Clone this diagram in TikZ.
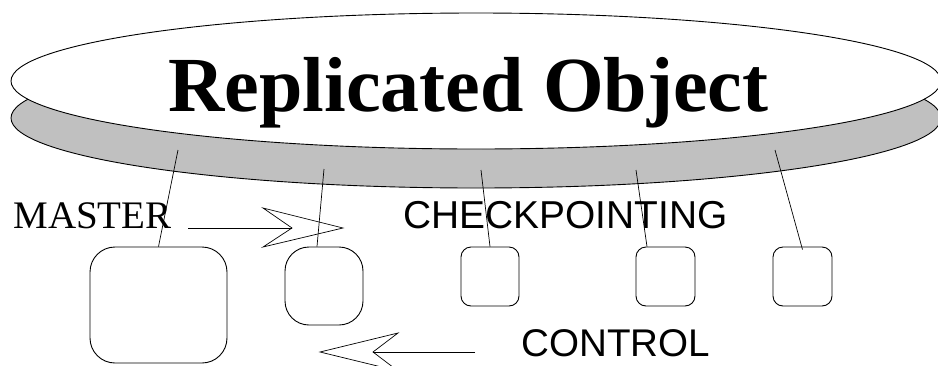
\documentclass[tikz,border=0pt]{standalone}
\usepackage{fontspec}
\usetikzlibrary{shapes.geometric}
\setmainfont{Liberation Serif}
\newfontfamily\arialfont{Liberation Sans}
\definecolor{bandgray}{RGB}{192,192,192}
\begin{document}
\begin{tikzpicture}[x=1pt,y=-1pt,line width=0.9pt,
  box/.style={draw,inner sep=0pt},
  link/.style={draw,line width=0.7pt},
  lbl/.style={anchor=base west,inner sep=0pt}]
\useasboundingbox (0,0) rectangle (938,365);
\clip (0,0) rectangle (938,365);
% disc
\draw[fill=bandgray] (476,118) ellipse [x radius=465, y radius=70];
\node[draw,fill=white,ellipse,inner sep=0pt,minimum width=930pt,minimum height=136pt] (disc) at (476,81) {};
\path (468.5,111) node[anchor=base,inner sep=0pt,font=\fontsize{78}{80}\selectfont\bfseries] (title) {Replicated Object};
% boxes
\node[box,rounded corners=25pt,minimum width=137pt,minimum height=116pt] (b1) at (158.5,305) {};
\node[box,rounded corners=24pt,minimum width=78pt,minimum height=78pt] (b2) at (324,286) {};
\node[box,rounded corners=10pt,minimum width=58pt,minimum height=59pt] (b3) at (490,276.5) {};
\node[box,rounded corners=10pt,minimum width=59pt,minimum height=59pt] (b4) at (665.5,276.5) {};
\node[box,rounded corners=10pt,minimum width=59pt,minimum height=59pt] (b5) at (802.5,276.5) {};
% attachment points on the band
\coordinate (s1) at (178,150);
\coordinate (s2) at (324,169);
\coordinate (s3) at (481,170);
\coordinate (s4) at (636,170);
\coordinate (s5) at (775,150);
\draw[link] (s1) -- (b1.north);
\draw[link] (s2) -- ([xshift=-7pt]b2.north);
\draw[link] (s3) -- (b3.north);
\draw[link] (s4) -- ([xshift=-18.5pt]b4.north);
\draw[link] (s5) -- ([yshift=-3pt]b5.north);
% labels
\node[lbl,font=\fontsize{39}{40}\selectfont] (master) at (13,228) {MASTER};
\node[lbl,font=\arialfont\fontsize{38.9}{40}\selectfont] (ckpt) at (403,228) {CHECKPOINTING};
\node[lbl,font=\arialfont\fontsize{38.6}{40}\selectfont] (ctrl) at (521,356) {CONTROL};
% arrows
\coordinate (ra0) at (188,228);
\coordinate (ran) at (292,228);
\draw[link] (ra0) -- (ran);
\draw[link,line join=miter] (263,208) -- (343,228) -- (263,247) -- (ran) -- cycle;
\coordinate (la0) at (475,352);
\coordinate (lan) at (373,352);
\draw[link] (la0) -- (lan);
\draw[link,line join=miter] (398,333) -- (320,352) -- (398,371) -- (lan) -- cycle;
\end{tikzpicture}
\end{document}
